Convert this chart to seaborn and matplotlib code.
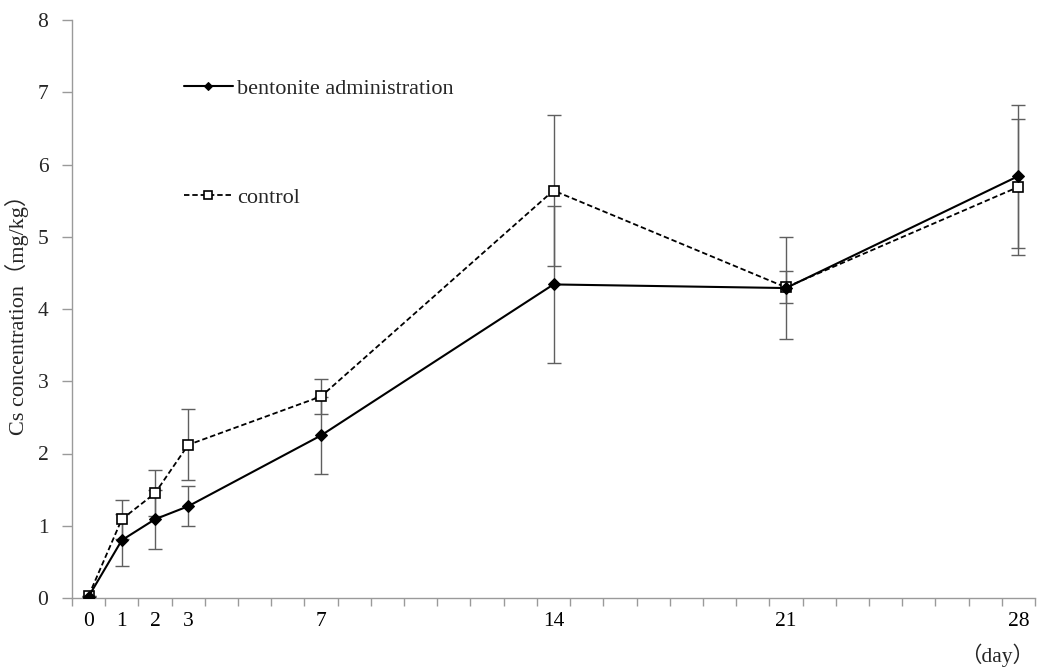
import matplotlib
matplotlib.use("Agg")
import matplotlib.pyplot as plt
import seaborn as sns
import pandas as pd
from matplotlib.ticker import FixedLocator, NullFormatter

# ---- data ----
days = [0, 1, 2, 3, 7, 14, 21, 28]
bentonite = [0.02, 0.80, 1.09, 1.27, 2.25, 4.34, 4.29, 5.84]
bentonite_err = [0.0, 0.36, 0.41, 0.28, 0.53, 1.09, 0.70, 0.99]
control = [0.03, 1.09, 1.45, 2.12, 2.79, 5.64, 4.30, 5.69]
control_err = [0.0, 0.27, 0.32, 0.49, 0.24, 1.04, 0.22, 0.94]
series_names = ["bentonite administration", "control"]
x_tick_labels = ["0", "1", "2", "3", "7", "14", "21", "28"]
y_ticks = [0, 1, 2, 3, 4, 5, 6, 7, 8]

sns.set_theme(style="white")
plt.rcParams["font.family"] = ["Liberation Serif", "Noto Sans CJK JP", "DejaVu Sans"]

df = pd.DataFrame({
    "day": days * 2,
    "value": bentonite + control,
    "series": [series_names[0]] * len(days) + [series_names[1]] * len(days),
})

fig = plt.figure(figsize=(10.38, 6.70), dpi=100)
ax = fig.add_axes([72 / 1038, 1 - 598 / 670, (1035 - 72) / 1038, (598 - 20) / 670])

grey = "#5f5f5f"
# error bars
ax.errorbar(days, control, yerr=control_err, fmt="none", ecolor=grey,
            elinewidth=1.0, capsize=5, capthick=1.0, zorder=1)
ax.errorbar(days, bentonite, yerr=bentonite_err, fmt="none", ecolor=grey,
            elinewidth=1.0, capsize=5, capthick=1.0, zorder=1)

sns.lineplot(data=df, x="day", y="value", hue="series", style="series",
             hue_order=series_names[::-1], style_order=series_names[::-1],
             palette={series_names[0]: "black", series_names[1]: "black"},
             markers={series_names[0]: "D", series_names[1]: "s"},
             dashes={series_names[0]: "", series_names[1]: (3, 1.6)},
             ax=ax, legend=False, zorder=3)

lines = ax.get_lines()
for ln in lines:
    if ln.get_marker() == "s":
        ln.set_markerfacecolor("white")
        ln.set_markeredgecolor("black")
        ln.set_markersize(7.5)
        ln.set_markeredgewidth(1.2)
        ln.set_linewidth(1.3)
        ctrl_line = ln
    elif ln.get_marker() == "D":
        ln.set_markerfacecolor("black")
        ln.set_markeredgecolor("black")
        ln.set_markersize(6)
        ln.set_linewidth(1.5)
        bent_line = ln

ax.set_xlim(-0.5, 28.5)
ax.set_ylim(0, 8)
ax.set_yticks(y_ticks)
ax.set_yticklabels([str(v) for v in y_ticks])
ax.set_xticks(days)
ax.set_xticklabels(x_tick_labels)
ax.xaxis.set_minor_locator(FixedLocator([i - 0.5 for i in range(30)]))
ax.xaxis.set_minor_formatter(NullFormatter())
ax.tick_params(axis="x", which="major", length=0, pad=10, labelsize=15.5, colors="black")
ax.tick_params(axis="x", which="minor", length=6, width=1, color="#9a9a9a", direction="out", bottom=True)
ax.tick_params(axis="y", which="major", length=7, width=1, color="#9a9a9a", direction="out",
               labelsize=15.5, pad=10, left=True)

for side in ["top", "right"]:
    ax.spines[side].set_visible(False)
for side in ["left", "bottom"]:
    ax.spines[side].set_color("#9a9a9a")
    ax.spines[side].set_linewidth(1.0)

ax.set_xlabel("")
ax.set_ylabel("Cs concentration（mg/kg）", fontsize=16, labelpad=6)

leg = ax.legend([bent_line, ctrl_line], series_names, loc="upper left",
                bbox_to_anchor=((184 - 72) / 963, (598 - 78) / 578),
                frameon=False, fontsize=16, labelspacing=4.0, handlelength=2.2,
                handletextpad=0.2, borderpad=0, borderaxespad=0, markerscale=0.75)

fig.text(1034 / 1038, 1 - 655 / 670, "（day）", fontsize=15.5, ha="right", va="center")

fig.savefig("out.png", dpi=100)
